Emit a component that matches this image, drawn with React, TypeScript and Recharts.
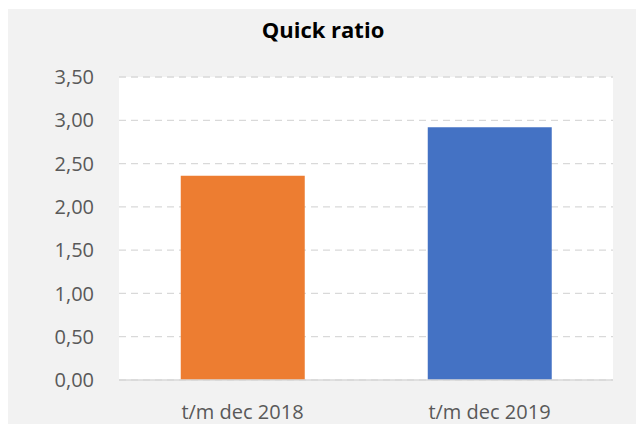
import React from "react";
import { BarChart, Bar, XAxis, YAxis, CartesianGrid, Cell } from "recharts";

const categories = ["t/m dec 2018", "t/m dec 2019"];
const quickRatio = [2.36, 2.92];
const barColors = ["#ED7D31", "#4472C4"];
const yTicks = [0, 0.5, 1, 1.5, 2, 2.5, 3, 3.5];
const title = "Quick ratio";

const data = categories.map((c, i) => ({ name: c, value: quickRatio[i] }));

const fmt = (v: number) => v.toFixed(2).replace(".", ",");

const W = 630;
const H = 416;

export default function App() {
  return (
    <div
      style={{
        position: "relative",
        top: 1,
        width: W,
        height: H,
        background: "#F2F2F2",
        fontFamily: "'Open Sans', 'Noto Sans', sans-serif",
        overflow: "hidden",
      }}
    >
      <div
        style={{
          position: "absolute",
          top: 5,
          left: 0,
          width: W,
          textAlign: "center",
          fontSize: 22,
          fontWeight: 700,
          color: "#000",
        }}
      >
        {title}
      </div>
      <BarChart
        width={W}
        height={H}
        data={data}
        margin={{ top: 68, right: 25, bottom: 0, left: 0 }}
        barCategoryGap="25%"
      >
        <CartesianGrid
          vertical={false}
          fill="#FFFFFF"
          stroke="#D9D9D9"
          strokeDasharray="7 5"
          strokeWidth={1.3}
        />
        <XAxis
          dataKey="name"
          height={45}
          axisLine={{ stroke: "#D9D9D9", strokeWidth: 1.5 }}
          tickLine={false}
          tickSize={0}
          tickMargin={25}
          tick={{ fill: "#595959", fontSize: 20 }}
        />
        <YAxis
          width={111}
          domain={[0, 3.5]}
          ticks={yTicks}
          tickFormatter={fmt}
          axisLine={false}
          tickLine={false}
          tickSize={0}
          tickMargin={25}
          tick={{ fill: "#595959", fontSize: 20 }}
        />
        <Bar dataKey="value" isAnimationActive={false}>
          {data.map((d, i) => (
            <Cell key={d.name} fill={barColors[i]} />
          ))}
        </Bar>
      </BarChart>
    </div>
  );
}
